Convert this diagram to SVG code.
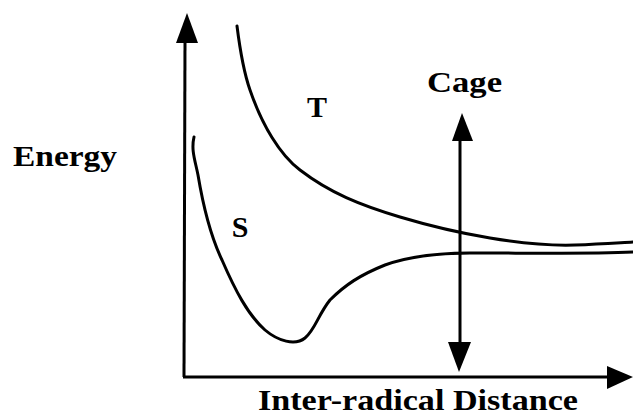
<svg xmlns="http://www.w3.org/2000/svg" width="633" height="416" viewBox="0 0 633 416">
<style>
.lbl{font-family:"Liberation Serif","Times New Roman",serif;font-weight:bold;fill:#000;font-size:30px}
.ax{stroke:#000;stroke-width:3;fill:none}
.cv{stroke:#000;stroke-width:3;fill:none;stroke-linecap:round;stroke-linejoin:round}
</style>
<rect width="633" height="416" fill="#fff"/>
<g id="axes">
<line class="ax" x1="185" y1="40" x2="184" y2="377"/>
<polygon points="187,13 176,43 198,43"/>
<line class="ax" x1="183" y1="377" x2="610" y2="377"/>
<polygon points="633,377 607,366 607,389"/>
</g>
<g id="curve-T">
<path class="cv" d="M237,26 C240,50 243,70 250,90 C262,125 280,155 300,170 C330,193 360,205 400,217 C430,226 460,233 490,238 C520,243 545,246 575,245 C600,244 615,243 633,242"/>
</g>
<g id="curve-S">
<path class="cv" d="M194,137 C191,150 195,160 198,175 C203,205 210,235 222,260 C235,290 248,315 265,330 C278,341 295,346 305,338 C315,330 318,315 330,300 C345,285 360,275 385,265 C410,256 440,253 470,253 C530,253 590,254 633,252"/>
</g>
<g id="cage">
<line class="ax" x1="460" y1="138" x2="460" y2="345"/>
<polygon points="462,113 452,141 473,141"/>
<polygon points="459,372 448,342 471,342"/>
<text class="lbl" x="427" y="92" textLength="75" lengthAdjust="spacingAndGlyphs">Cage</text>
</g>
<g id="labels">
<text class="lbl" x="13" y="166" textLength="104" lengthAdjust="spacingAndGlyphs">Energy</text>
<text class="lbl" x="317" y="117" text-anchor="middle">T</text>
<text class="lbl" x="240" y="237" text-anchor="middle">S</text>
<text class="lbl" x="258" y="410" textLength="320" lengthAdjust="spacingAndGlyphs">Inter-radical Distance</text>
</g>
</svg>
